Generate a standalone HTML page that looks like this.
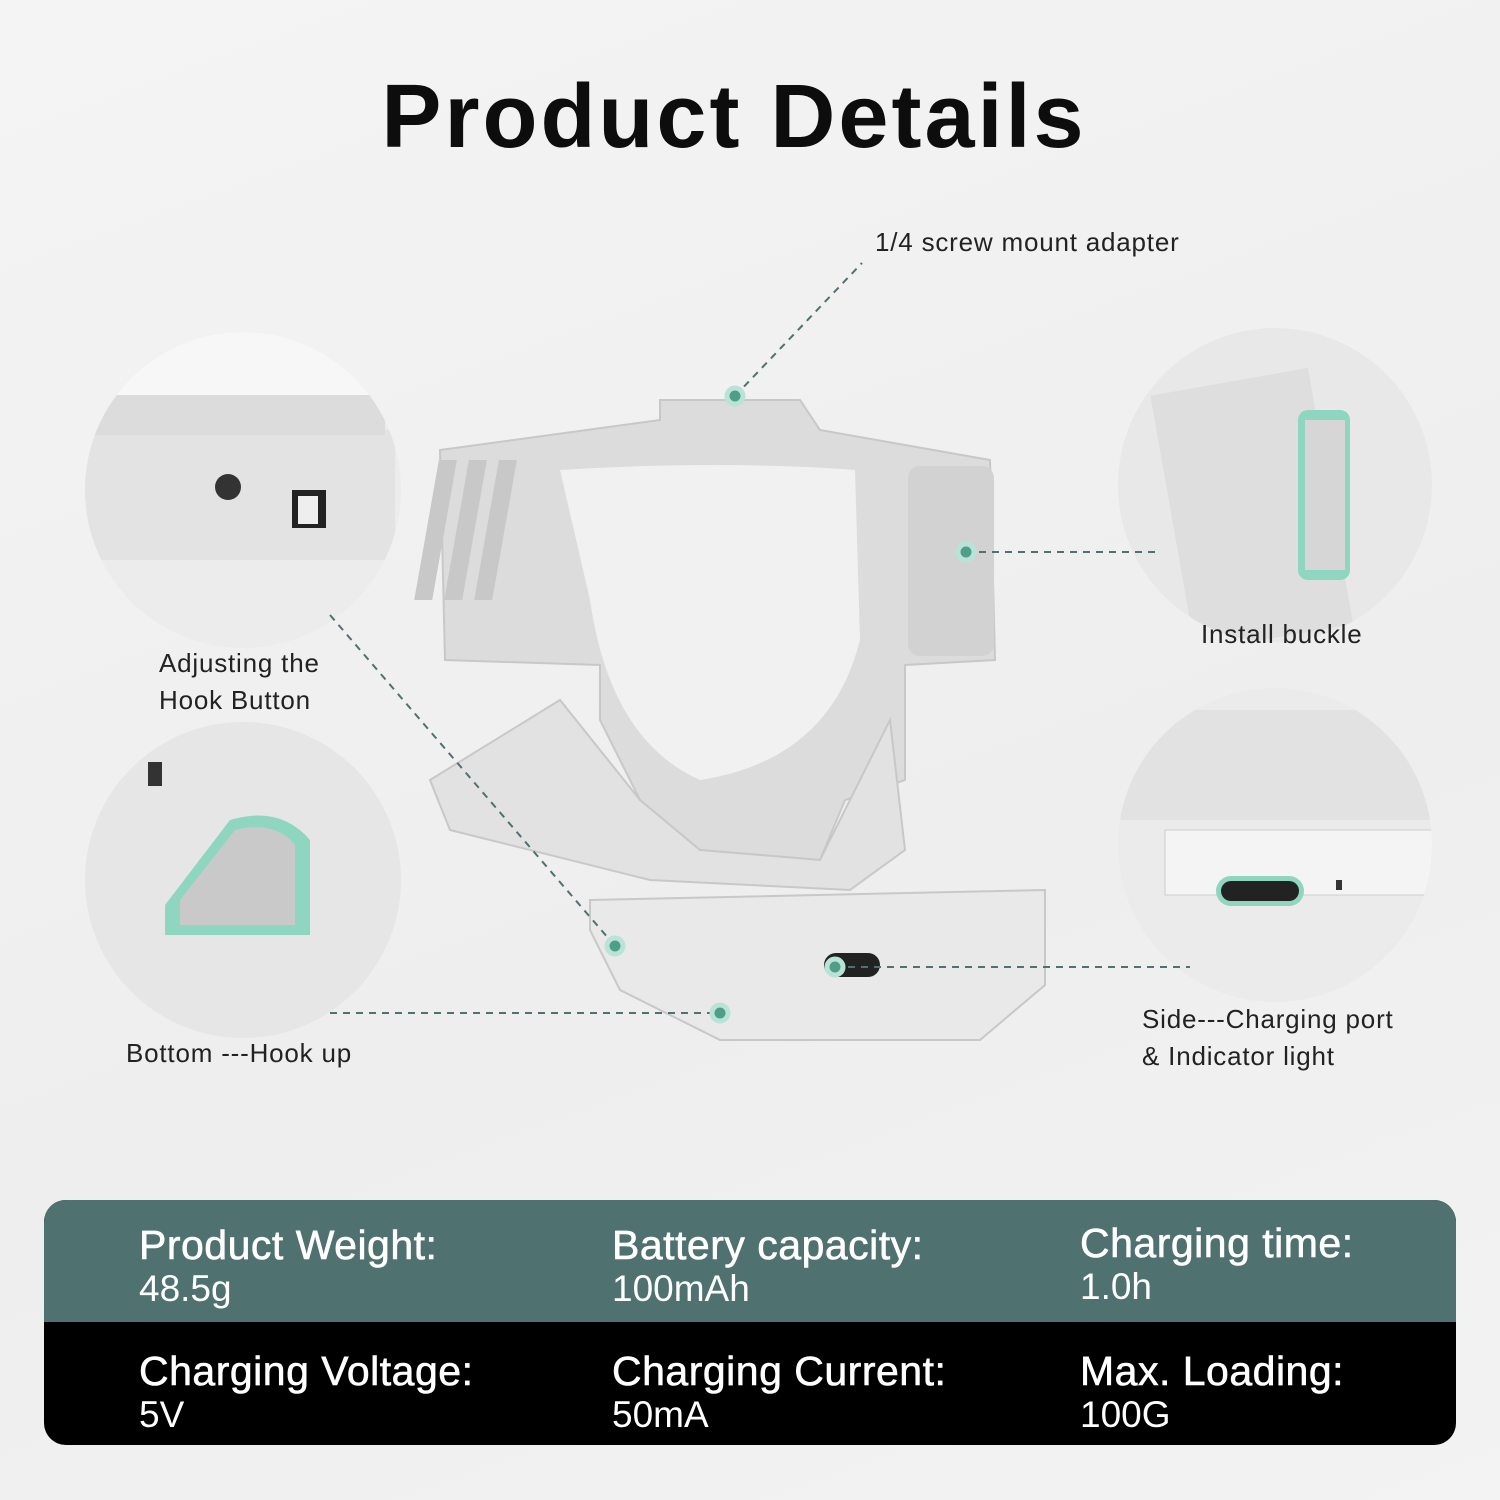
<!DOCTYPE html>
<html><head><meta charset="utf-8"><style>
html,body{margin:0;padding:0}
body{width:1500px;height:1500px;overflow:hidden;background:linear-gradient(160deg,#f4f4f4 0%,#eeeeee 60%,#f3f3f3 100%);font-family:"Liberation Sans",sans-serif;position:relative}
.t{position:absolute;color:#222;font-size:26px;line-height:37px;letter-spacing:0.8px}
h1{position:absolute;left:0;width:1468px;top:66px;margin:0;text-align:center;font-size:90px;font-weight:bold;color:#0d0d0d;letter-spacing:3px}
.tab{position:absolute;left:44px;top:1200px;width:1412px;height:245px;border-radius:22px;overflow:hidden;background:#000}
.tab .top{position:absolute;left:0;top:0;width:100%;height:122px;background:#4f7170}
.c{position:absolute;color:#fff}
.c b{display:block;font-size:41px;font-weight:normal;-webkit-text-stroke:0.6px #fff;line-height:46px;letter-spacing:0.5px}
.c span{display:block;font-size:37px;line-height:42px}
</style></head><body>
<h1>Product Details</h1>
<svg width="1500" height="1500" style="position:absolute;left:0;top:0">
<defs>
<clipPath id="c1"><circle cx="243" cy="490" r="158"/></clipPath>
<clipPath id="c2"><circle cx="243" cy="880" r="158"/></clipPath>
<clipPath id="c3"><circle cx="1275" cy="485" r="157"/></clipPath>
<clipPath id="c4"><circle cx="1275" cy="845" r="157"/></clipPath>
</defs>
<circle cx="243" cy="490" r="158" fill="#ececec"/>
<g clip-path="url(#c1)"><rect x="80" y="330" width="330" height="70" fill="#f7f7f7"/><rect x="85" y="430" width="310" height="130" fill="#e3e3e3"/><rect x="85" y="395" width="300" height="40" fill="#dcdcdc"/><circle cx="228" cy="487" r="13" fill="#333"/><rect x="292" y="490" width="34" height="38" fill="#222"/><rect x="298" y="496" width="20" height="28" fill="#eee"/></g>
<circle cx="243" cy="880" r="158" fill="#e6e6e6"/>
<g clip-path="url(#c2)"><path d="M165 905 L230 820 Q280 805 310 840 L310 935 L165 935 Z" fill="#8fd6c0"/><path d="M180 900 L235 830 Q275 820 295 845 L295 925 L180 925 Z" fill="#c9c9c9"/><rect x="148" y="762" width="14" height="24" fill="#333"/></g>
<circle cx="1275" cy="485" r="157" fill="#e8e8e8"/>
<g clip-path="url(#c3)"><rect x="1170" y="380" width="160" height="260" fill="#dedede" transform="rotate(-10 1250 500)"/><rect x="1298" y="410" width="52" height="170" rx="10" fill="#8fd6c0"/><rect x="1305" y="420" width="40" height="150" fill="#d6d6d6"/></g>
<circle cx="1275" cy="845" r="157" fill="#ebebeb"/>
<g clip-path="url(#c4)"><rect x="1118" y="710" width="320" height="110" fill="#e2e2e2"/><rect x="1165" y="830" width="280" height="65" fill="#f4f4f4" stroke="#ccc"/><rect x="1216" y="876" width="88" height="30" rx="15" fill="#8fd6c0"/><rect x="1221" y="881" width="78" height="20" rx="10" fill="#222"/><rect x="1336" y="880" width="6" height="10" fill="#333"/></g>
<g fill="#dcdcdc" stroke="#c8c8c8" stroke-width="2">
<path d="M660 400 L800 400 L820 430 L990 460 L995 660 L905 665 L905 780 L845 800 L820 860 L700 850 L640 800 L600 720 L600 665 L445 660 L440 450 L660 420 Z"/>
<path d="M590 900 L1045 890 L1045 985 L980 1040 L720 1040 L620 990 L590 930 Z" fill="#e9e9e9"/>
<path d="M430 780 L560 700 L640 800 L700 850 L820 860 L860 780 L890 720 L905 850 L850 890 L650 880 L450 830 Z" fill="#e2e2e2"/>
</g>
<path d="M560 470 Q720 460 855 470 L860 640 Q830 760 700 780 Q610 740 590 600 Z" fill="#f1f1f1"/>
<g fill="#c8c8c8"><rect x="520" y="460" width="18" height="140" transform="skewX(-10)"/><rect x="550" y="460" width="18" height="140" transform="skewX(-10)"/><rect x="580" y="460" width="18" height="140" transform="skewX(-10)"/></g>
<rect x="908" y="466" width="86" height="190" rx="12" fill="#d2d2d2"/>
<rect x="824" y="953" width="56" height="24" rx="12" fill="#222"/>
<g stroke="#4f7170" stroke-width="2" stroke-dasharray="7,6" fill="none">
<line x1="735" y1="396" x2="862" y2="263"/>
<line x1="966" y1="552" x2="1160" y2="552"/>
<line x1="330" y1="615" x2="615" y2="946"/>
<line x1="330" y1="1013" x2="720" y2="1013"/>
<line x1="835" y1="967" x2="1190" y2="967"/>
</g>
<g fill="#4f9f88" stroke="#b9e3d6" stroke-width="5">
<circle cx="735" cy="396" r="8"/><circle cx="966" cy="552" r="8"/><circle cx="615" cy="946" r="8"/><circle cx="720" cy="1013" r="8"/><circle cx="835" cy="967" r="8"/>
</g>
</svg>
<div class="t" style="left:875px;top:224px">1/4 screw mount adapter</div>
<div class="t" style="left:1201px;top:616px">Install buckle</div>
<div class="t" style="left:159px;top:645px">Adjusting the<br>Hook Button</div>
<div class="t" style="left:126px;top:1035px">Bottom ---Hook up</div>
<div class="t" style="left:1142px;top:1001px">Side---Charging port<br>&amp; Indicator light</div>
<div class="tab"><div class="top"></div>
<div class="c" style="left:95px;top:22px"><b>Product Weight:</b><span>48.5g</span></div>
<div class="c" style="left:568px;top:22px"><b>Battery capacity:</b><span>100mAh</span></div>
<div class="c" style="left:1036px;top:20px"><b>Charging time:</b><span>1.0h</span></div>
<div class="c" style="left:95px;top:148px"><b>Charging Voltage:</b><span>5V</span></div>
<div class="c" style="left:568px;top:148px"><b>Charging Current:</b><span>50mA</span></div>
<div class="c" style="left:1036px;top:148px"><b>Max. Loading:</b><span>100G</span></div>
</div>
</body></html>
